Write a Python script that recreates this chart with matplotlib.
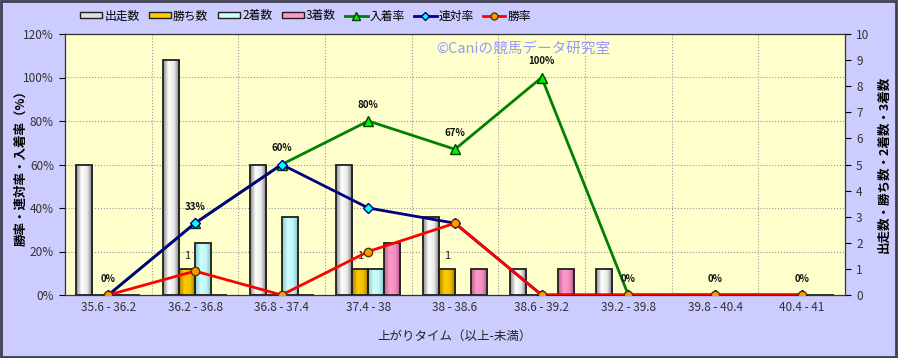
import numpy as np
import matplotlib
matplotlib.use("Agg")
import matplotlib.pyplot as plt
from matplotlib.colors import LinearSegmentedColormap
from matplotlib.patches import Rectangle
from matplotlib.lines import Line2D

plt.rcParams['font.family'] = ['Noto Sans CJK JP', 'DejaVu Sans']

# データ
categories = ['35.6 - 36.2', '36.2 - 36.8', '36.8 - 37.4', '37.4 - 38', '38 - 38.6',
              '38.6 - 39.2', '39.2 - 39.8', '39.8 - 40.4', '40.4 - 41']
runs = [5, 9, 5, 5, 3, 1, 1, 0, 0]
wins = [0, 1, 0, 1, 1, 0, 0, 0, 0]
seconds = [0, 2, 3, 1, 0, 0, 0, 0, 0]
thirds = [0, 0, 0, 2, 1, 1, 0, 0, 0]
place_rate = [0, 33, 60, 80, 67, 100, 0, 0, 0]
rentai_rate = [0, 33, 60, 40, 33, 0, 0, 0, 0]
win_rate = [0, 11, 0, 20, 33, 0, 0, 0, 0]

fig = plt.figure(figsize=(8.98, 3.58), dpi=100, facecolor='#CCCCFF')
ax2 = fig.add_axes([65 / 898, (358 - 295) / 358, 780 / 898, 261 / 358])
ax2.set_facecolor('#FFFFCC')
ax = ax2.twinx()   # 線グラフ(左軸)は前面に

x = np.arange(len(categories))
bw = 0.185

def grad_bars(axis, xs, vals, cols):
    cmap = LinearSegmentedColormap.from_list('g', cols)
    bars = axis.bar(xs, vals, bw, color='none', edgecolor='#202020', linewidth=1.3, zorder=3)
    for b in bars:
        if b.get_height() <= 0:
            continue
        x0, y0 = b.get_x(), b.get_y()
        im = axis.imshow(np.linspace(0, 1, 64).reshape(1, -1), cmap=cmap, aspect='auto',
                         extent=[x0, x0 + b.get_width(), y0, y0 + b.get_height()], zorder=2)
        im.set_clip_path(b)
    return bars

grad_bars(ax2, x - 1.5 * bw, runs, ['#8a8a8a', '#ffffff', '#e8e8e8', '#707070'])
grad_bars(ax2, x - 0.5 * bw, wins, ['#b08000', '#ffcc00', '#f0c000', '#a07000'])
grad_bars(ax2, x + 0.5 * bw, seconds, ['#88c8c8', '#ccffff', '#c0f4f4', '#80b8b8'])
grad_bars(ax2, x + 1.5 * bw, thirds, ['#c06090', '#ff99cc', '#f090c0', '#b05080'])

for xi, w in zip(x, wins):
    if w > 0:
        ax2.text(xi - 0.5 * bw, w + 0.3, str(w), ha='center', va='bottom', fontsize=8, color='#222222')

ax2.set_xlim(-0.5, len(categories) - 0.5)
ax2.set_ylim(0, 10)
ax2.set_yticks(range(0, 11))
ax2.set_xticks(x)
ax2.set_xticklabels(categories, fontsize=8.5, color='#333333')
ax2.set_xticks(np.arange(0.5, len(categories) - 0.5, 1), minor=True)
ax2.tick_params(axis='x', which='both', length=0, pad=4)
ax2.grid(True, which='minor', axis='x', linestyle=':', color='#999999', linewidth=0.8)
# 左軸(%)の目盛に合わせた横グリッド
for v in range(20, 121, 20):
    ax2.axhline(v / 12, linestyle=':', color='#999999', linewidth=0.8, zorder=1)
ax2.yaxis.tick_right()
ax2.yaxis.set_label_position('right')
ax2.tick_params(axis='y', labelsize=8.5, labelcolor='#333333', direction='out', length=4, pad=4)
ax2.set_ylabel('出走数・勝ち数・2着数・3着数', fontsize=9, fontweight='bold', labelpad=6)
ax2.set_xlabel('上がりタイム（以上-未満）', fontsize=9, labelpad=12, color='#222222')
ax2.set_axisbelow(True)

ax.yaxis.tick_left()
ax.yaxis.set_label_position('left')
ax.set_ylim(0, 120)
ax.set_yticks(range(0, 121, 20))
ax.set_yticklabels([f'{v}%' for v in range(0, 121, 20)])
ax.tick_params(axis='y', labelsize=8.5, labelcolor='#333333', direction='out', length=4, pad=4)
ax.set_ylabel('勝率・連対率・入着率（%）', fontsize=9, fontweight='bold')
ax.yaxis.set_label_coords(-0.048, 0.5)

ax.plot(x, place_rate, color='#008000', lw=2, marker='^', ms=7, mfc='#00ee00', mec='#004000', zorder=5)
ax.plot(x, rentai_rate, color='#000080', lw=2, marker='D', ms=5, mfc='#00ffff', mec='#000080', zorder=6)
ax.plot(x, win_rate, color='#ff0000', lw=2, marker='o', ms=6, mfc='#ff9900', mec='#603000', zorder=7)

for xi, p in zip(x, place_rate):
    ax.annotate(f'{p}%', (xi, p), xytext=(0, 8), textcoords='offset points', ha='center',
                va='bottom', fontsize=7, fontweight='bold', color='#111111', zorder=8)

ax.text(0.588, 0.94, '©Caniの競馬データ研究室', transform=ax.transAxes, ha='center', va='center',
        fontsize=10.5, color='#9999ff', zorder=4)

for s in ax.spines.values():
    s.set_color('#333333')

handles = [
    Rectangle((0, 0), 1, 1, fc='#e0e0e0', ec='#202020'),
    Rectangle((0, 0), 1, 1, fc='#ffcc00', ec='#202020'),
    Rectangle((0, 0), 1, 1, fc='#ccffff', ec='#202020'),
    Rectangle((0, 0), 1, 1, fc='#ff99cc', ec='#202020'),
    Line2D([], [], color='#008000', lw=2, marker='^', ms=6, mfc='#00ee00', mec='#004000'),
    Line2D([], [], color='#000080', lw=2, marker='D', ms=4, mfc='#00ffff', mec='#000080'),
    Line2D([], [], color='#ff0000', lw=2, marker='o', ms=5, mfc='#ff9900', mec='#603000'),
]
labels = ['出走数', '勝ち数', '2着数', '3着数', '入着率', '連対率', '勝率']
fig.legend(handles, labels, loc='center left', bbox_to_anchor=(80 / 898, 1 - 16 / 358), ncol=7,
           frameon=False, fontsize=8.5, handlelength=1.9, handleheight=0.45, handletextpad=0.15,
           columnspacing=0.8, borderaxespad=0, borderpad=0)

fig.patches.append(Rectangle((0.001, 0.002), 0.997, 0.995, transform=fig.transFigure,
                             fill=False, ec='#404050', lw=2))

fig.savefig('out.png', dpi=100, facecolor=fig.get_facecolor())
